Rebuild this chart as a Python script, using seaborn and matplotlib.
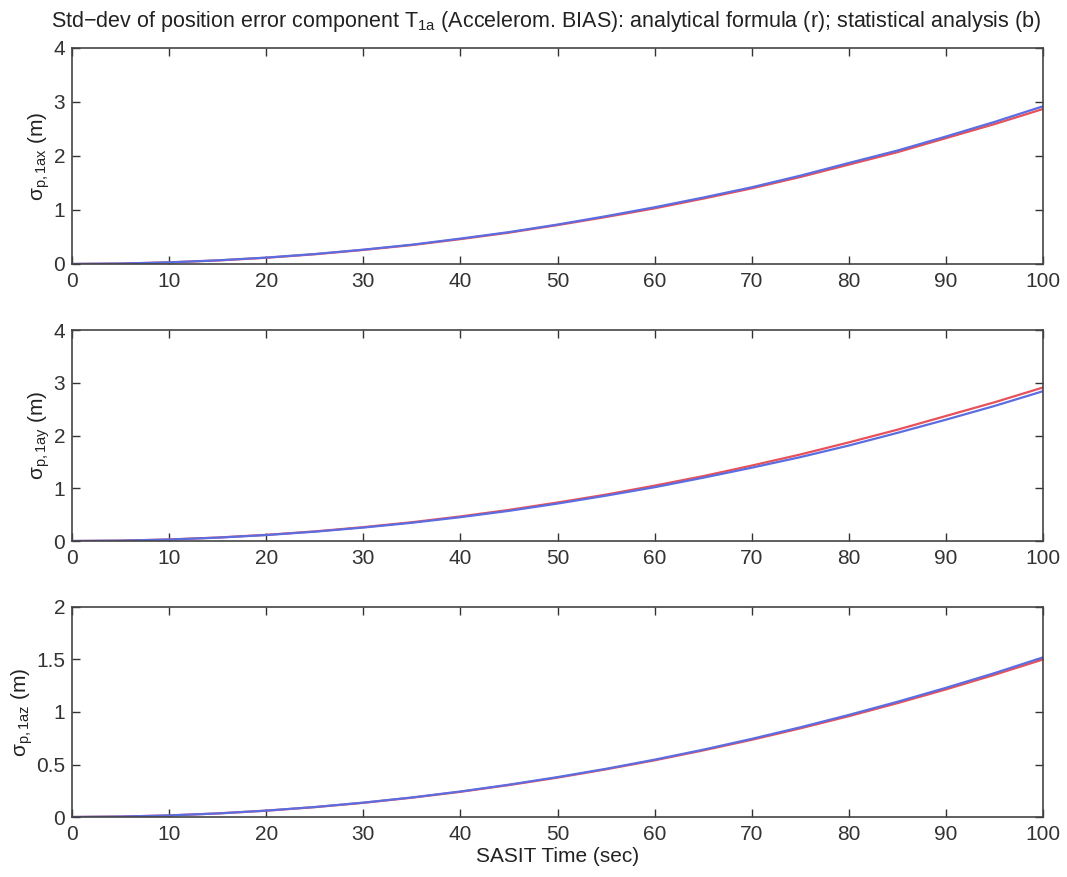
import numpy as np
import pandas as pd
import matplotlib
matplotlib.use("Agg")
import matplotlib.pyplot as plt
import seaborn as sns

# ---- data ----
time = [0, 5, 10, 15, 20, 25, 30, 35, 40, 45, 50, 55, 60, 65, 70, 75, 80, 85, 90, 95, 100]

ax_analytical = [0.0, 0.007, 0.029, 0.065, 0.115, 0.18, 0.26, 0.35, 0.46, 0.58, 0.72,
                 0.87, 1.03, 1.21, 1.40, 1.61, 1.84, 2.07, 2.33, 2.59, 2.87]
ax_statistical = [0.0, 0.008, 0.030, 0.067, 0.118, 0.184, 0.265, 0.357, 0.47, 0.59, 0.73,
                  0.885, 1.05, 1.23, 1.42, 1.635, 1.87, 2.10, 2.36, 2.63, 2.92]

ay_analytical = [0.0, 0.007, 0.029, 0.066, 0.117, 0.182, 0.263, 0.356, 0.466, 0.59, 0.73,
                 0.88, 1.05, 1.23, 1.43, 1.64, 1.87, 2.11, 2.37, 2.63, 2.91]
ay_statistical = [0.0, 0.007, 0.028, 0.064, 0.113, 0.177, 0.255, 0.346, 0.452, 0.572, 0.71,
                  0.86, 1.02, 1.20, 1.39, 1.59, 1.81, 2.05, 2.30, 2.56, 2.84]

az_analytical = [0.0, 0.004, 0.015, 0.034, 0.060, 0.094, 0.135, 0.184, 0.240, 0.304, 0.375,
                 0.454, 0.540, 0.634, 0.735, 0.844, 0.96, 1.084, 1.215, 1.354, 1.50]
az_statistical = [0.0, 0.004, 0.015, 0.034, 0.061, 0.095, 0.137, 0.186, 0.243, 0.308, 0.380,
                  0.459, 0.546, 0.641, 0.744, 0.854, 0.972, 1.097, 1.23, 1.37, 1.52]

ylabels = ["σ$_{\\mathrm{p,1ax}}$ (m)", "σ$_{\\mathrm{p,1ay}}$ (m)", "σ$_{\\mathrm{p,1az}}$ (m)"]
ylims = [4, 4, 2]
yticks = [[0, 1, 2, 3, 4], [0, 1, 2, 3, 4], [0, 0.5, 1, 1.5, 2]]
yticklabels = [["0", "1", "2", "3", "4"], ["0", "1", "2", "3", "4"], ["0", "0.5", "1", "1.5", "2"]]
xticks = [0, 10, 20, 30, 40, 50, 60, 70, 80, 90, 100]

sns.set_style("ticks")
plt.rcParams["font.family"] = ["Liberation Sans", "DejaVu Sans"]
plt.rcParams["mathtext.fontset"] = "custom"
plt.rcParams["mathtext.rm"] = "Liberation Sans"
plt.rcParams["mathtext.it"] = "Liberation Sans:italic"

fig = plt.figure(figsize=(10.67, 8.77), dpi=100)
positions = [
    [0.0675, 0.699, 0.910, 0.2463],
    [0.0675, 0.3831, 0.910, 0.2406],
    [0.0675, 0.0684, 0.910, 0.2395],
]
series = [(ax_analytical, ax_statistical), (ay_analytical, ay_statistical), (az_analytical, az_statistical)]

for i, (pos, (ana, sta)) in enumerate(zip(positions, series)):
    ax = fig.add_axes(pos)
    df = pd.DataFrame({"t": time + time,
                       "v": ana + sta,
                       "kind": ["analytical"] * len(time) + ["statistical"] * len(time)})
    sns.lineplot(data=df, x="t", y="v", hue="kind",
                 palette={"analytical": "#e8505a", "statistical": "#5b6de0"},
                 linewidth=1.6, ax=ax, legend=False)
    ax.set_xlim(0, 100)
    ax.set_ylim(0, ylims[i])
    ax.set_xticks(xticks)
    ax.set_xticklabels([str(x) for x in xticks])
    ax.set_yticks(yticks[i])
    ax.set_yticklabels(yticklabels[i])
    ax.tick_params(direction="in", length=6, width=1, top=True, right=True,
                   labelsize=15, colors="#333333", pad=5)
    ax.tick_params(axis="x", pad=6)
    for s in ax.spines.values():
        s.set_visible(True)
        s.set_color("#444444")
        s.set_linewidth(1.2)
    ax.set_ylabel(ylabels[i], fontsize=15, color="#222222", labelpad=1)
    ax.set_xlabel("")
    if i == 2:
        ax.set_xlabel("SASIT Time (sec)", fontsize=15, color="#222222", labelpad=2)

fig.text(0.512, 0.975, "Std−dev of position error component T$_{\\mathrm{1a}}$ (Accelerom. BIAS): analytical formula (r); statistical analysis (b)",
         ha="center", va="center", fontsize=15.5, color="#222222")

fig.savefig("out.png", dpi=100)
